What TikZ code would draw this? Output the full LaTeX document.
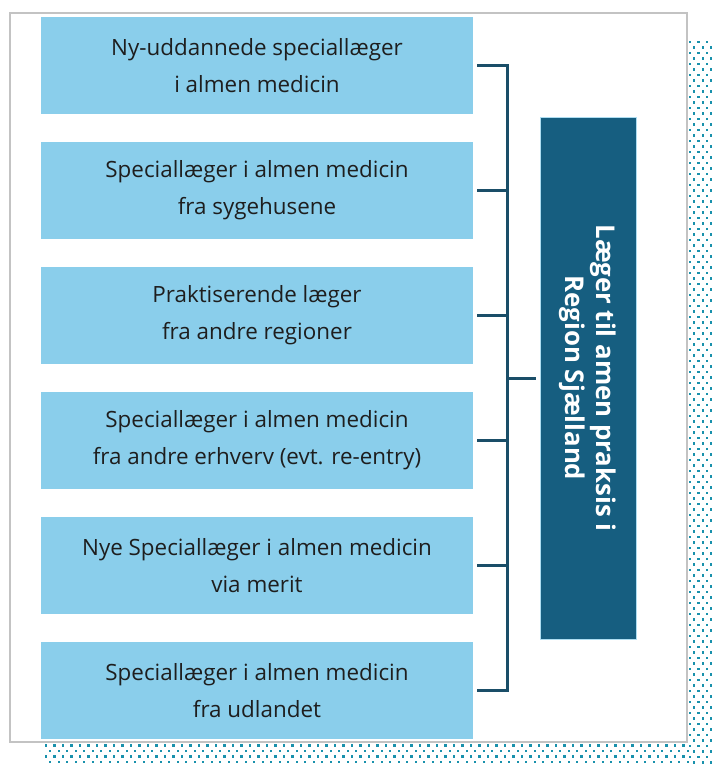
\documentclass[tikz,border=0pt]{standalone}
\usepackage{fontspec}
\setmainfont{Open Sans}
\definecolor{boxblue}{RGB}{138,206,235}
\definecolor{darkteal}{RGB}{22,94,128}
\definecolor{linecol}{RGB}{26,78,104}
\definecolor{dotcol}{RGB}{25,145,172}
\definecolor{framegray}{RGB}{195,195,195}
\definecolor{txt}{RGB}{30,30,30}
\begin{document}
\begin{tikzpicture}[x=1pt,y=-1pt,
  srcbox/.style={fill=boxblue, minimum width=432pt, minimum height=97pt, inner sep=0pt,
    align=center, text=txt, font=\fontsize{22.4}{37}\selectfont},
  bracket/.style={draw=linecol, line width=3pt},
  dot/.style={fill=dotcol}]
\useasboundingbox (0,0) rectangle (712,764);
% dotted shadow
\foreach \r in {0,...,131}{
  \foreach \c in {0,1,2}{
    \pgfmathsetmacro\xx{690+4.25*mod(\r,2)+8.5*\c}
    \pgfmathsetmacro\yy{42+5.5*\r}
    \fill[dot] (\xx-1.1,\yy-1.1) rectangle ++(2.2,2.2);
  }
}
\foreach \r in {0,...,3}{
  \foreach \c in {0,...,75}{
    \pgfmathsetmacro\xx{46+4.25*mod(\r,2)+8.5*\c}
    \pgfmathsetmacro\yy{745.5+5.5*\r}
    \fill[dot] (\xx-1.1,\yy-1.1) rectangle ++(2.2,2.2);
  }
}
% frame
\node[draw=framegray, line width=1.2pt, fill=white, minimum width=677pt, minimum height=729pt,
  inner sep=0pt] (frame) at (348.5,377.5) {};
% source boxes
\node[srcbox] (b1) at (257,65.5) {Ny-uddannede speciallæger\\i almen medicin};
\node[srcbox] (b2) at (257,190.5) {Speciallæger i almen medicin\\fra sygehusene};
\node[srcbox] (b3) at (257,315.5) {Praktiserende læger\\fra andre regioner};
\node[srcbox] (b4) at (257,440.5) {Speciallæger i almen medicin\\fra andre erhverv (evt. re-entry)};
\node[srcbox] (b5) at (257,565.5) {Nye Speciallæger i almen medicin\\via merit};
\node[srcbox] (b6) at (257,690.5) {Speciallæger i almen medicin\\fra udlandet};
% target
\node[fill=darkteal, draw=boxblue!70, line width=0.8pt, minimum width=96pt, minimum height=522pt,
  inner sep=0pt] (target) at (588,378) {};
\node[rotate=-90, text=white, align=center, font=\bfseries\fontsize{25.8}{31}\selectfont]
  (tlabel) at ([xshift=-0.5pt]target.center) {Læger til amen praksis i\\Region Sjælland};
% bracket
\coordinate (spine) at (507,0);
\draw[bracket] ([xshift=4pt]b1.east) -- (b1.east -| spine) -- (b6.east -| spine) -- ([xshift=4pt]b6.east);
\foreach \i in {2,3,4,5}{
  \draw[bracket] ([xshift=4pt]b\i.east) -- (b\i.east -| spine);
}
\draw[bracket, shorten >=4pt] (spine |- target.west) -- (target.west);
\end{tikzpicture}
\end{document}
